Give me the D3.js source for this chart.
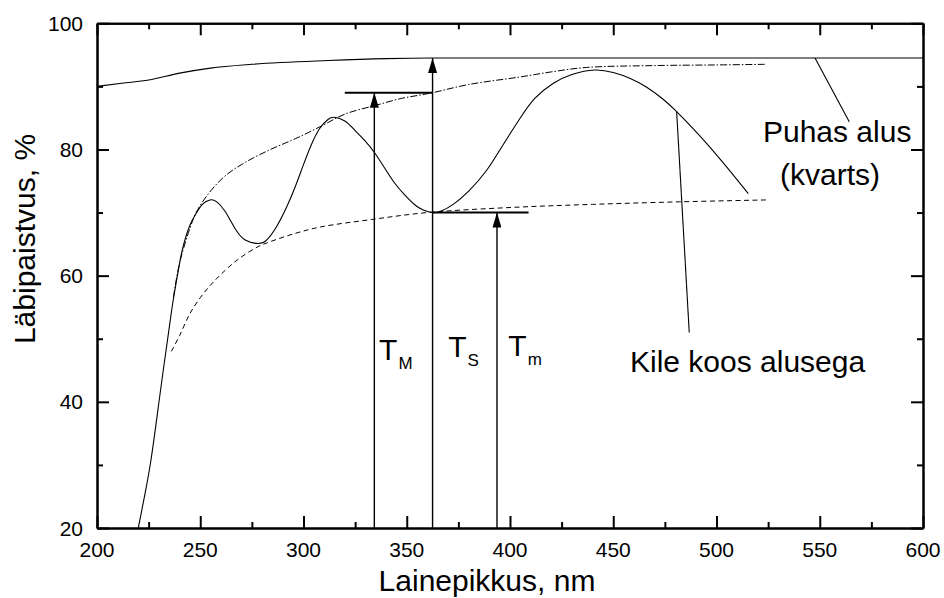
<!DOCTYPE html>
<html>
<head>
<meta charset="utf-8">
<script src="https://cdn.jsdelivr.net/npm/d3@7"></script>
<style>
  body { margin: 0; background: #fff; }
  svg { font-family: "Liberation Sans", Arial, sans-serif; }
  .tickLabel { font-size: 21px; }
  .axisTitle { font-size: 30px; }
  .note { font-size: 30px; }
</style>
</head>
<body>
<div id="chart" style="width:944px;height:598px;"><svg width="944" height="598"></svg></div>
<script>
// data (wavelength nm, transmission %)
const substrate = [[200,90.0],[212,90.5],[225,91.0],[240,92.1],[255,92.9],[275,93.5],[312,94.1],[340,94.4],[362,94.5],[400,94.5],[600,94.5]];
const film = [[220,20],[223,25],[226,30.5],[229,37.5],[232,44.8],[235,51.8],[237,56.3],[240,62],[242,65],[245,68],[248.3,70],[251,71.3],[254.7,72],[258,71.7],[262,70.2],[267,67.4],[272,65.6],[278,65.1],[282,65.6],[287,67.8],[292,71],[296,74.1],[300,77.6],[304,80.9],[308,83.4],[312,84.8],[315,85.1],[320,84.5],[325,83.0],[330,81.3],[334.6,79.4],[340,76.7],[344.3,74.6],[349,72.8],[354,71.2],[358,70.4],[362.5,70.0],[367,70.3],[372.5,71.3],[380,73.4],[388.7,76.7],[396,80.4],[404.8,84.9],[412,88.1],[421,90.5],[430,91.9],[441,92.6],[450,92.2],[458,91.3],[466,89.9],[474,88.0],[480.7,86.0],[489,83.2],[497,80.3],[506,76.8],[515.4,73]];
const upperEnv = [[237,56.6],[240,62],[245,67.5],[248,70],[254,73],[262,75.8],[272,78],[284,80],[296,81.7],[308,83.6],[320,85.6],[335,87],[347.5,88.1],[356,88.6],[362.5,89.0],[380,90.3],[405,91.5],[420,92.3],[437,93.0],[470,93.3],[500,93.4],[524,93.5]];
const lowerEnv = [[236,48],[240,50.5],[245,54],[250,56.5],[255,58.5],[260,60.2],[268,62.5],[278,64.6],[284,65.4],[296,66.7],[308,67.7],[333,68.9],[360,70.0],[400,70.8],[440,71.3],[482,71.7],[524,72.0]];

// T_M, T_S, T_m arrows: wavelength and the value they point to
const arrowX = [334.3, 362.5, 393.7];
const arrowTop = [89.0, 94.5, 70.0];
// horizontal reference bars [from, to, value]
const bars = [[320, 362.5, 89.0], [362.5, 409, 70.0]];

const xTicks = [200, 250, 300, 350, 400, 450, 500, 550, 600];
const xMinor = [225, 275, 325, 375, 425, 475, 525, 575];
const yTicks = [20, 40, 60, 80, 100];
const yMinor = [30, 50, 70, 90];

// setup
const svg = d3.select("#chart").select("svg");
const margin = {top: 23.3, right: 21, bottom: 70, left: 97};
const width = 944, height = 598;
const plotWidth = width - margin.left - margin.right;
const plotHeight = height - margin.top - margin.bottom;

const xScale = d3.scaleLinear().domain([200, 600]).range([0, plotWidth]);
const yScale = d3.scaleLinear().domain([20, 100]).range([plotHeight, 0]);

svg.append("defs").append("marker")
	.attr("id", "head")
	.attr("viewBox", "0 0 15 9")
	.attr("refX", 15).attr("refY", 4.5)
	.attr("markerWidth", 15).attr("markerHeight", 9)
	.attr("markerUnits", "userSpaceOnUse")
	.attr("orient", "auto")
  .append("path")
	.attr("d", "M0,0 L15,4.5 L0,9 Z")
	.attr("fill", "#000");

const plot = svg.append("g")
	.attr("transform", `translate(${margin.left}, ${margin.top})`);

// curves
const line = d3.line()
	.x(d => xScale(d[0]))
	.y(d => yScale(d[1]))
	.curve(d3.curveCatmullRom);

plot.append("path").datum(lowerEnv)
	.attr("d", line).attr("fill", "none").attr("stroke", "#000")
	.attr("stroke-width", 1).attr("stroke-dasharray", "5,3.5");

plot.append("path").datum(upperEnv)
	.attr("d", line).attr("fill", "none").attr("stroke", "#000")
	.attr("stroke-width", 1).attr("stroke-dasharray", "7,2,1.5,2");

plot.append("path").datum(substrate)
	.attr("d", d3.line().x(d => xScale(d[0])).y(d => yScale(d[1])).curve(d3.curveMonotoneX))
	.attr("fill", "none").attr("stroke", "#000").attr("stroke-width", 1.1);

plot.append("path").datum(film)
	.attr("d", d3.line().x(d => xScale(d[0])).y(d => yScale(d[1])).curve(d3.curveNatural))
	.attr("fill", "none").attr("stroke", "#000").attr("stroke-width", 1.1);

// arrows and bars
plot.selectAll(".arrow")
  .data(arrowX.map((x, i) => ({x: x, top: arrowTop[i]})))
	.enter()
  .append("line")
	.attr("class", "arrow")
	.attr("x1", d => xScale(d.x)).attr("x2", d => xScale(d.x))
	.attr("y1", yScale(20)).attr("y2", d => yScale(d.top))
	.attr("stroke", "#000").attr("stroke-width", 1.4)
	.attr("marker-end", "url(#head)");

plot.selectAll(".bar")
  .data(bars)
	.enter()
  .append("line")
	.attr("class", "bar")
	.attr("x1", d => xScale(d[0])).attr("x2", d => xScale(d[1]))
	.attr("y1", d => yScale(d[2])).attr("y2", d => yScale(d[2]))
	.attr("stroke", "#000").attr("stroke-width", 2);

// leader lines for the notes
const leaders = [[[547.7, 94.5], [564.3, 84.4]], [[480.7, 86.0], [486.8, 51.0]]];
plot.selectAll(".leader")
  .data(leaders)
	.enter()
  .append("line")
	.attr("x1", d => xScale(d[0][0])).attr("y1", d => yScale(d[0][1]))
	.attr("x2", d => xScale(d[1][0])).attr("y2", d => yScale(d[1][1]))
	.attr("stroke", "#000").attr("stroke-width", 1.1);

// notes
const notes = [
	{label: "Puhas alus", x: 522.5, y: 81.2},
	{label: "(kvarts)", x: 530.8, y: 74.3},
	{label: "Kile koos alusega", x: 458.1, y: 44.8}
];
plot.selectAll(".note")
  .data(notes)
	.enter()
  .append("text")
	.attr("class", "note")
	.attr("x", d => xScale(d.x)).attr("y", d => yScale(d.y))
	.text(d => d.label);

const tLabels = [
	{main: "T", sub: "M", x: 336.6, y: 46.7},
	{main: "T", sub: "S", x: 370.1, y: 47.1},
	{main: "T", sub: "m", x: 399.2, y: 47.3}
];
const tl = plot.selectAll(".tLabel")
  .data(tLabels)
	.enter()
  .append("text")
	.attr("class", "note")
	.attr("x", d => xScale(d.x)).attr("y", d => yScale(d.y));
tl.append("tspan").text(d => d.main);
tl.append("tspan").attr("dy", 9).attr("dx", 1).style("font-size", "17px").text(d => d.sub);

// axes, ticks point inward on all four sides
function ticksOn(axis, values, size) {
	return axis.tickValues(values).tickSizeInner(size).tickSizeOuter(0).tickFormat("");
}

const axes = [
	{g: `translate(0, ${plotHeight})`, make: () => d3.axisBottom(xScale), maj: xTicks, min: xMinor},
	{g: `translate(0, 0)`, make: () => d3.axisTop(xScale), maj: xTicks, min: xMinor},
	{g: `translate(0, 0)`, make: () => d3.axisLeft(yScale), maj: yTicks, min: yMinor},
	{g: `translate(${plotWidth}, 0)`, make: () => d3.axisRight(yScale), maj: yTicks, min: yMinor}
];
axes.forEach(a => {
	const gMin = plot.append("g").attr("transform", a.g).call(ticksOn(a.make(), a.min, -6));
	const gMaj = plot.append("g").attr("transform", a.g).call(ticksOn(a.make(), a.maj, -12));
	[gMin, gMaj].forEach(g => {
		g.selectAll(".tick line").attr("stroke-width", 2);
		g.select(".domain").attr("stroke-width", 2);
		g.selectAll("text").remove();
	});
});

// tick labels
plot.selectAll(".xLabel")
  .data(xTicks)
	.enter()
  .append("text")
	.attr("class", "tickLabel")
	.attr("x", d => xScale(d)).attr("y", plotHeight + 29)
	.attr("text-anchor", "middle")
	.text(d => d);

plot.selectAll(".yLabel")
  .data(yTicks)
	.enter()
  .append("text")
	.attr("class", "tickLabel")
	.attr("x", -14).attr("y", d => yScale(d))
	.attr("dy", "0.36em")
	.attr("text-anchor", "end")
	.text(d => d);

// axis titles
svg.append("text")
	.attr("class", "axisTitle")
	.attr("x", 487).attr("y", 591)
	.attr("text-anchor", "middle")
	.text("Lainepikkus, nm");

svg.append("text")
	.attr("class", "axisTitle")
	.attr("transform", "translate(35, 239) rotate(-90)")
	.attr("text-anchor", "middle")
	.text("Läbipaistvus, %");
</script>
</body>
</html>
